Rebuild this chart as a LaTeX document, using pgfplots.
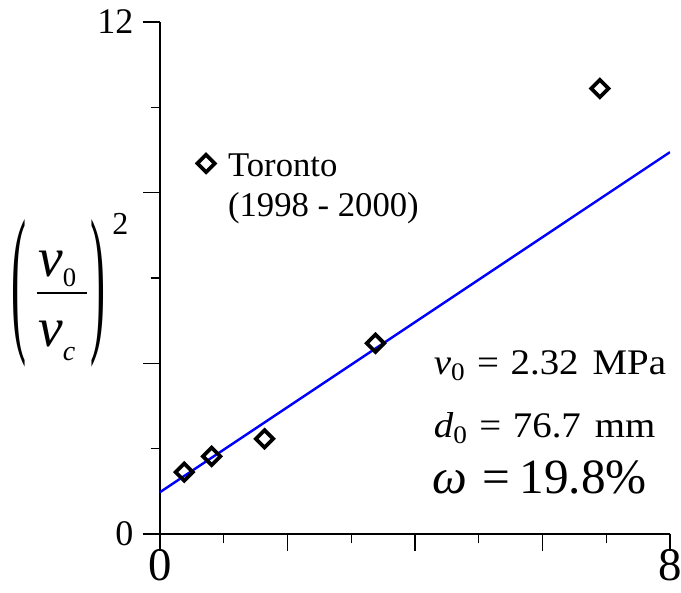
\documentclass[border=0pt]{standalone}
\usepackage{fontspec}
\setmainfont{Liberation Serif}
\usepackage{graphicx}
\usepackage{pgfplots}
\pgfplotsset{compat=1.18}

% text is set at 26pt and enlarged with \scalebox where it must be bigger
\newcommand{\basefont}{\fontsize{26}{30}\selectfont}

\begin{document}
\begin{tikzpicture}
\begin{axis}[
  scale only axis,
  width=382.5pt, height=384pt,
  xmin=0, xmax=8, ymin=0, ymax=12,
  axis lines=left,
  axis line style={-, line width=1.3pt},
  every tick/.style={black, line width=1.1pt},
  tick align=outside,
  major tick length=12.5pt,
  minor tick length=7pt,
  xtick={0,2,4,6,8}, xticklabels={\scalebox{1.35}{0},,,,\scalebox{1.35}{8}},
  minor xtick={1,3,5,7},
  ytick={0,4,8,12}, yticklabels={0,,,12},
  minor ytick={2,6,10},
  /pgf/number format/assume math mode=true,
  xticklabel style={font=\basefont, yshift=4.5pt},
  yticklabel style={font=\fontsize{27}{30}\selectfont, xshift=-4pt},
  clip mode=individual,
  legend style={draw=none, fill=none, at={(rel axis cs:0.065,0.764)}, anchor=north west,
    font=\basefont, legend cell align=left},
]
% fitted trend
\addplot[blue, line width=1.8pt, forget plot] coordinates {(0,0.98) (8,8.95)};
% measurements
\addplot[only marks, mark=square, mark size=4.6pt,
  mark options={rotate=45, line width=2.8pt, fill=white, draw=black}]
  coordinates {
    (0.38,1.45)
    (0.81,1.82)
    (1.64,2.23)
    (3.38,4.47)
    (6.90,10.44)
  };
\addlegendentry{\begin{tabular}[t]{@{\hspace{8pt}}l@{}}Toronto\\(1998 - 2000)\end{tabular}}

\node[anchor=base west, inner sep=0pt, font=\fontsize{27}{30}\selectfont] at (axis cs:4.29,3.73)
  {\scalebox{1.08}[1]{\textit{v}\textsubscript{0}\hspace{0.3em}=\hspace{0.3em}2.32\hspace{0.36em}MPa}};
\node[anchor=base west, inner sep=0pt, font=\fontsize{27}{30}\selectfont] at (axis cs:4.29,2.25)
  {\scalebox{1.08}[1]{\textit{d}\textsubscript{0}\hspace{0.3em}=\hspace{0.3em}76.7\hspace{0.36em}mm}};
\node[anchor=base west, inner sep=0pt, font=\basefont] at (axis cs:4.27,0.96)
  {\scalebox{1.42}{\textit{ω}\hspace{0.3em}=\hspace{0.2em}19.8\%}};

\coordinate (L) at ([xshift=-73.5pt]rel axis cs:0,0.4707);
\coordinate (bl) at (rel axis cs:0,0);
\coordinate (tr) at (rel axis cs:1,1);
\end{axis}

% axis title: (v_0 / v_c)^2
\draw[line width=1.4pt] ([xshift=-18.75pt]L) -- ([xshift=18.75pt]L);
\node[anchor=base west, inner sep=0pt, font=\basefont] at ([xshift=-18pt, yshift=12pt]L)
  {\scalebox{1.6}{\textit{v}}\raisebox{-7.5pt}{\fontsize{20}{20}\selectfont 0}};
\node[anchor=base west, inner sep=0pt, font=\basefont] at ([xshift=-18pt, yshift=-40.5pt]L)
  {\scalebox{1.6}{\textit{v}}\raisebox{-10pt}{\fontsize{21}{21}\selectfont\textit{c}}};
\node[inner sep=0pt, font=\basefont] at ([xshift=-32pt]L) {\scalebox{1.3}[4.7]{(}};
\node[inner sep=0pt, font=\basefont] at ([xshift=27pt]L) {\scalebox{1.3}[4.7]{)}};
\node[anchor=base west, inner sep=0pt, font=\fontsize{24}{26}\selectfont] at ([xshift=37.5pt, yshift=43.5pt]L) {2};

\pgfresetboundingbox
\path ([shift={(-120pt,-43.5pt)}]bl) rectangle ([shift={(8.25pt,16.5pt)}]tr);
\end{tikzpicture}
\end{document}
